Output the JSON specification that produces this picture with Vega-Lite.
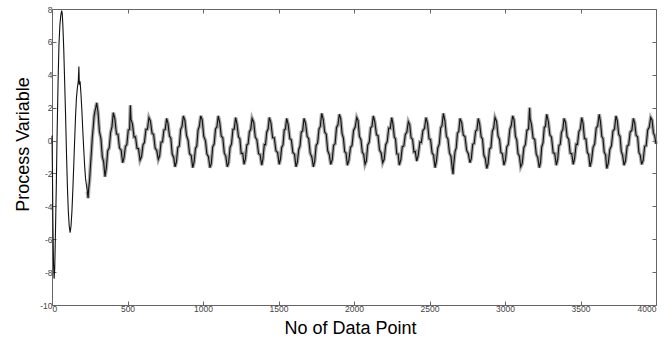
{
  "$schema": "https://vega.github.io/schema/vega-lite/v6.json",
  "width": 604,
  "height": 296,
  "autosize": {"type": "none"},
  "padding": {"left": 52, "top": 9, "right": 16, "bottom": 35},
  "background": "white",
  "config": {
    "view": {"stroke": null},
    "axis": {
      "grid": false,
      "domainColor": "#666",
      "tickColor": "#666",
      "tickSize": -4,
      "labelFont": "Liberation Sans",
      "labelFontSize": 8.5,
      "labelColor": "#444",
      "titleFont": "Liberation Sans",
      "titleFontSize": 18,
      "titleFontWeight": "normal",
      "titleColor": "#000"
    }
  },
  "data": {"values": [
    {"x":0,"y":0.3},{"x":3,"y":-2.0},{"x":6,"y":-5.0},{"x":10,"y":-7.5},{"x":14,"y":-8.4},{"x":18,"y":-7.8},{"x":22,"y":-6.0},{"x":28,"y":-3.0},{"x":34,"y":0.5},{"x":40,"y":3.5},{"x":46,"y":5.8},{"x":52,"y":7.0},{"x":58,"y":7.6},{"x":64,"y":7.9},{"x":68,"y":7.7},{"x":72,"y":7.0},{"x":78,"y":5.5},{"x":84,"y":3.5},{"x":90,"y":1.5},{"x":96,"y":-0.8},{"x":102,"y":-2.8},{"x":108,"y":-4.3},{"x":114,"y":-5.2},{"x":120,"y":-5.6},{"x":126,"y":-5.2},{"x":132,"y":-4.3},{"x":138,"y":-3.0},{"x":144,"y":-1.5},{"x":150,"y":0.0},{"x":156,"y":1.5},{"x":162,"y":2.6},{"x":168,"y":3.2},{"x":174,"y":3.6},{"x":178,"y":4.5},{"x":181,"y":3.4},{"x":186,"y":3.6},{"x":192,"y":2.8},{"x":198,"y":1.8},{"x":204,"y":0.6},{"x":210,"y":-0.5},{"x":216,"y":-1.5},{"x":222,"y":-2.3},{"x":228,"y":-2.7},{"x":234,"y":-3.1},{"x":239,"y":-3.5},{"x":243,"y":-2.9},{"x":249,"y":-2.4},{"x":255,"y":-1.5},{"x":261,"y":-0.7},{"x":267,"y":0.2},{"x":273,"y":0.8},{"x":279,"y":1.5},{"x":285,"y":1.8},{"x":290,"y":2.0},{"x":296,"y":2.3},
    {"x":305,"y":1.69},{"x":314,"y":0.55},{"x":324,"y":0.12},{"x":333,"y":-0.98},{"x":342,"y":-1.29},{"x":351,"y":-2.2},
    {"x":360,"y":-1.65},{"x":369,"y":-0.62},{"x":379,"y":-0.45},{"x":388,"y":0.48},{"x":397,"y":0.83},{"x":406,"y":1.7},
    {"x":416,"y":1.34},{"x":427,"y":0.40},{"x":437,"y":0.38},{"x":447,"y":-0.45},{"x":458,"y":-0.59},{"x":468,"y":-1.35},
    {"x":477,"y":-1.06},{"x":486,"y":-0.37},{"x":496,"y":-0.23},{"x":505,"y":0.64},{"x":514,"y":0.68},{"x":519,"y":2.15},{"x":523,"y":1.3},
    {"x":533,"y":1.00},{"x":543,"y":0.22},{"x":553,"y":0.23},{"x":563,"y":-0.47},{"x":573,"y":-0.50},{"x":583,"y":-1.2},
    {"x":593,"y":-0.97},{"x":603,"y":-0.25},{"x":612,"y":-0.12},{"x":622,"y":0.68},{"x":632,"y":0.69},{"x":642,"y":1.4},
    {"x":652,"y":1.18},{"x":663,"y":0.43},{"x":673,"y":0.38},{"x":683,"y":-0.45},{"x":694,"y":-0.62},{"x":704,"y":-1.15},
    {"x":713,"y":-0.93},{"x":722,"y":-0.10},{"x":732,"y":-0.08},{"x":741,"y":0.64},{"x":750,"y":0.68},{"x":759,"y":1.35},
    {"x":768,"y":1.04},{"x":778,"y":0.27},{"x":787,"y":0.15},{"x":796,"y":-0.82},{"x":806,"y":-1.03},{"x":815,"y":-1.6},
    {"x":824,"y":-1.30},{"x":833,"y":-0.42},{"x":843,"y":-0.33},{"x":852,"y":0.67},{"x":861,"y":0.86},{"x":870,"y":1.5},
    {"x":880,"y":1.23},{"x":891,"y":0.30},{"x":901,"y":0.02},{"x":911,"y":-0.80},{"x":922,"y":-0.91},{"x":932,"y":-1.65},
    {"x":941,"y":-1.31},{"x":950,"y":-0.48},{"x":959,"y":-0.33},{"x":967,"y":0.63},{"x":976,"y":0.88},{"x":985,"y":1.5},
    {"x":995,"y":1.26},{"x":1005,"y":0.25},{"x":1016,"y":0.00},{"x":1026,"y":-0.82},{"x":1036,"y":-0.98},{"x":1046,"y":-1.65},
    {"x":1055,"y":-1.41},{"x":1064,"y":-0.40},{"x":1074,"y":-0.20},{"x":1083,"y":0.70},{"x":1092,"y":0.83},{"x":1101,"y":1.5},
    {"x":1111,"y":1.08},{"x":1121,"y":0.27},{"x":1131,"y":0.17},{"x":1141,"y":-0.75},{"x":1151,"y":-0.96},{"x":1161,"y":-1.6},
    {"x":1170,"y":-1.35},{"x":1179,"y":-0.42},{"x":1189,"y":-0.20},{"x":1198,"y":0.68},{"x":1207,"y":0.70},{"x":1216,"y":1.4},
    {"x":1225,"y":1.01},{"x":1235,"y":0.23},{"x":1244,"y":0.12},{"x":1253,"y":-0.78},{"x":1263,"y":-0.78},{"x":1272,"y":-1.45},
    {"x":1281,"y":-1.10},{"x":1290,"y":-0.27},{"x":1299,"y":-0.20},{"x":1307,"y":0.52},{"x":1316,"y":0.68},{"x":1325,"y":1.35},
    {"x":1336,"y":1.10},{"x":1346,"y":0.22},{"x":1357,"y":0.04},{"x":1368,"y":-0.80},{"x":1378,"y":-0.85},{"x":1389,"y":-1.5},
    {"x":1397,"y":-1.12},{"x":1406,"y":-0.25},{"x":1414,"y":-0.25},{"x":1422,"y":0.51},{"x":1431,"y":0.70},{"x":1439,"y":1.4},
    {"x":1450,"y":1.08},{"x":1461,"y":0.17},{"x":1472,"y":0.17},{"x":1483,"y":-0.62},{"x":1494,"y":-0.73},{"x":1505,"y":-1.45},
    {"x":1513,"y":-1.13},{"x":1521,"y":-0.42},{"x":1530,"y":-0.25},{"x":1538,"y":0.64},{"x":1546,"y":0.70},{"x":1554,"y":1.35},
    {"x":1564,"y":0.98},{"x":1575,"y":0.12},{"x":1585,"y":0.05},{"x":1595,"y":-0.72},{"x":1606,"y":-0.83},{"x":1616,"y":-1.6},
    {"x":1625,"y":-1.31},{"x":1634,"y":-0.54},{"x":1642,"y":-0.35},{"x":1651,"y":0.52},{"x":1660,"y":0.58},{"x":1669,"y":1.35},
    {"x":1679,"y":1.06},{"x":1690,"y":0.25},{"x":1700,"y":0.12},{"x":1710,"y":-0.77},{"x":1721,"y":-1.01},{"x":1731,"y":-1.6},
    {"x":1740,"y":-1.26},{"x":1749,"y":-0.30},{"x":1759,"y":-0.15},{"x":1768,"y":0.69},{"x":1777,"y":0.86},{"x":1786,"y":1.65},
    {"x":1796,"y":1.31},{"x":1806,"y":0.52},{"x":1816,"y":0.38},{"x":1826,"y":-0.62},{"x":1836,"y":-0.85},{"x":1846,"y":-1.45},
    {"x":1856,"y":-1.16},{"x":1865,"y":-0.28},{"x":1875,"y":-0.20},{"x":1884,"y":0.78},{"x":1894,"y":0.97},{"x":1903,"y":1.6},
    {"x":1912,"y":1.33},{"x":1921,"y":0.42},{"x":1930,"y":0.15},{"x":1938,"y":-0.67},{"x":1947,"y":-0.76},{"x":1956,"y":-1.5},
    {"x":1966,"y":-1.20},{"x":1977,"y":-0.41},{"x":1987,"y":-0.30},{"x":1997,"y":0.61},{"x":2008,"y":0.82},{"x":2018,"y":1.4},
    {"x":2027,"y":1.21},{"x":2036,"y":0.25},{"x":2046,"y":0.05},{"x":2055,"y":-0.72},{"x":2064,"y":-0.83},{"x":2073,"y":-1.45},
    {"x":2082,"y":-1.24},{"x":2091,"y":-0.27},{"x":2101,"y":-0.09},{"x":2110,"y":0.77},{"x":2119,"y":0.86},{"x":2128,"y":1.5},
    {"x":2138,"y":1.13},{"x":2149,"y":0.35},{"x":2159,"y":0.30},{"x":2169,"y":-0.58},{"x":2180,"y":-0.76},{"x":2190,"y":-1.35},
    {"x":2200,"y":-1.14},{"x":2210,"y":-0.25},{"x":2220,"y":-0.07},{"x":2230,"y":0.76},{"x":2240,"y":0.74},{"x":2250,"y":1.4},
    {"x":2258,"y":1.00},{"x":2267,"y":0.21},{"x":2275,"y":0.10},{"x":2283,"y":-0.81},{"x":2292,"y":-0.82},{"x":2300,"y":-1.5},
    {"x":2310,"y":-1.18},{"x":2320,"y":-0.37},{"x":2330,"y":-0.33},{"x":2340,"y":0.37},{"x":2350,"y":0.51},{"x":2360,"y":1.15},
    {"x":2369,"y":0.97},{"x":2378,"y":0.17},{"x":2388,"y":0.07},{"x":2397,"y":-0.70},{"x":2406,"y":-0.67},{"x":2415,"y":-1.25},
    {"x":2425,"y":-0.91},{"x":2436,"y":-0.09},{"x":2446,"y":-0.12},{"x":2456,"y":0.60},{"x":2467,"y":0.74},{"x":2477,"y":1.4},
    {"x":2487,"y":1.04},{"x":2497,"y":0.10},{"x":2507,"y":0.07},{"x":2517,"y":-0.75},{"x":2527,"y":-0.89},{"x":2537,"y":-1.65},
    {"x":2546,"y":-1.25},{"x":2555,"y":-0.45},{"x":2565,"y":-0.20},{"x":2574,"y":0.77},{"x":2583,"y":0.92},{"x":2592,"y":1.65},
    {"x":2602,"y":1.20},{"x":2612,"y":0.25},{"x":2622,"y":0.10},{"x":2632,"y":-0.75},{"x":2642,"y":-0.95},{"x":2652,"y":-1.8},{"x":2656,"y":-2.05},
    {"x":2660,"y":-1.48},{"x":2669,"y":-0.67},{"x":2677,"y":-0.45},{"x":2685,"y":0.45},{"x":2694,"y":0.55},{"x":2702,"y":1.35},
    {"x":2713,"y":1.10},{"x":2724,"y":0.33},{"x":2735,"y":0.25},{"x":2746,"y":-0.60},{"x":2757,"y":-0.80},{"x":2768,"y":-1.35},
    {"x":2777,"y":-1.10},{"x":2786,"y":-0.23},{"x":2796,"y":-0.18},{"x":2805,"y":0.57},{"x":2814,"y":0.65},{"x":2823,"y":1.35},
    {"x":2832,"y":1.02},{"x":2842,"y":0.23},{"x":2851,"y":0.10},{"x":2860,"y":-0.88},{"x":2870,"y":-1.11},{"x":2879,"y":-1.7},
    {"x":2888,"y":-1.40},{"x":2897,"y":-0.52},{"x":2907,"y":-0.43},{"x":2916,"y":0.57},{"x":2925,"y":0.76},{"x":2934,"y":1.4},
    {"x":2944,"y":1.17},{"x":2954,"y":0.28},{"x":2964,"y":0.05},{"x":2973,"y":-0.73},{"x":2983,"y":-0.80},{"x":2993,"y":-1.5},
    {"x":3003,"y":-1.18},{"x":3012,"y":-0.38},{"x":3022,"y":-0.25},{"x":3032,"y":0.68},{"x":3041,"y":0.90},{"x":3051,"y":1.5},
    {"x":3060,"y":1.26},{"x":3069,"y":0.27},{"x":3078,"y":0.03},{"x":3086,"y":-0.79},{"x":3095,"y":-0.93},{"x":3104,"y":-1.6},
    {"x":3114,"y":-1.39},{"x":3125,"y":-0.42},{"x":3135,"y":-0.25},{"x":3145,"y":0.62},{"x":3156,"y":0.71},{"x":3163,"y":2.0},{"x":3166,"y":1.35},
    {"x":3176,"y":0.95},{"x":3186,"y":0.15},{"x":3197,"y":0.07},{"x":3207,"y":-0.83},{"x":3217,"y":-1.03},{"x":3227,"y":-1.65},
    {"x":3235,"y":-1.36},{"x":3243,"y":-0.39},{"x":3252,"y":-0.13},{"x":3260,"y":0.80},{"x":3268,"y":0.86},{"x":3276,"y":1.6},
    {"x":3287,"y":1.16},{"x":3297,"y":0.35},{"x":3308,"y":0.20},{"x":3319,"y":-0.75},{"x":3329,"y":-0.78},{"x":3340,"y":-1.5},
    {"x":3349,"y":-1.15},{"x":3357,"y":-0.30},{"x":3366,"y":-0.23},{"x":3374,"y":0.50},{"x":3383,"y":0.68},{"x":3391,"y":1.35},
    {"x":3401,"y":1.10},{"x":3411,"y":0.24},{"x":3422,"y":0.07},{"x":3432,"y":-0.77},{"x":3442,"y":-0.80},{"x":3452,"y":-1.45},
    {"x":3461,"y":-1.08},{"x":3471,"y":-0.22},{"x":3480,"y":-0.23},{"x":3489,"y":0.53},{"x":3499,"y":0.71},{"x":3508,"y":1.4},
    {"x":3517,"y":1.05},{"x":3526,"y":0.12},{"x":3536,"y":0.10},{"x":3545,"y":-0.72},{"x":3554,"y":-0.85},{"x":3563,"y":-1.6},
    {"x":3573,"y":-1.22},{"x":3583,"y":-0.43},{"x":3594,"y":-0.20},{"x":3604,"y":0.75},{"x":3614,"y":0.89},{"x":3624,"y":1.6},
    {"x":3632,"y":1.17},{"x":3641,"y":0.25},{"x":3649,"y":0.13},{"x":3657,"y":-0.70},{"x":3666,"y":-0.87},{"x":3674,"y":-1.7},
    {"x":3684,"y":-1.37},{"x":3694,"y":-0.55},{"x":3705,"y":-0.32},{"x":3715,"y":0.58},{"x":3725,"y":0.69},{"x":3735,"y":1.5},
    {"x":3744,"y":1.20},{"x":3753,"y":0.38},{"x":3762,"y":0.25},{"x":3770,"y":-0.65},{"x":3779,"y":-0.90},{"x":3788,"y":-1.5},
    {"x":3798,"y":-1.23},{"x":3809,"y":-0.33},{"x":3819,"y":-0.26},{"x":3829,"y":0.52},{"x":3840,"y":0.63},{"x":3850,"y":1.35},
    {"x":3859,"y":1.06},{"x":3868,"y":0.32},{"x":3878,"y":0.23},{"x":3887,"y":-0.72},{"x":3896,"y":-0.90},{"x":3905,"y":-1.45},
    {"x":3915,"y":-1.20},{"x":3925,"y":-0.35},{"x":3935,"y":-0.31},{"x":3945,"y":0.65},{"x":3955,"y":0.81},{"x":3965,"y":1.4},
    {"x":3974,"y":1.25},{"x":3983,"y":0.45},{"x":3991,"y":0.30},{"x":4000,"y":-0.2}
  ]},
  "layer": [
    {
      "transform": [{"filter": "datum.x >= 230"}],
      "mark": {"type": "line", "color": "#8a8a8a", "strokeWidth": 3.6, "strokeOpacity": 0.75},
      "encoding": {
        "x": {"field": "x", "type": "quantitative", "scale": {"domain": [0, 4000], "nice": false, "zero": false}, "axis": null},
        "y": {"field": "y", "type": "quantitative", "scale": {"domain": [-10, 8], "nice": false, "zero": false}, "axis": null}
      }
    },
    {
      "mark": {"type": "line", "color": "#111", "strokeWidth": 1.1},
      "encoding": {
        "x": {
          "field": "x", "type": "quantitative",
          "scale": {"domain": [0, 4000], "nice": false, "zero": false},
          "axis": {
            "orient": "bottom",
            "values": [0, 500, 1000, 1500, 2000, 2500, 3000, 3500, 4000],
            "labelExpr": "'' + datum.value",
            "labelPadding": 3,
            "title": "No of Data Point",
            "titleX": 298,
            "titleY": 28,
            "titleBaseline": "alphabetic"
          }
        },
        "y": {
          "field": "y", "type": "quantitative",
          "scale": {"domain": [-10, 8], "nice": false, "zero": false},
          "axis": {
            "orient": "left",
            "values": [-10, -8, -6, -4, -2, 0, 2, 4, 6, 8],
            "labelExpr": "'' + datum.value",
            "labelPadding": 4,
            "title": "Process Variable",
            "titleX": -24,
            "titleY": 135,
            "titleBaseline": "alphabetic"
          }
        }
      }
    },
    {
      "mark": {"type": "line", "strokeOpacity": 0},
      "encoding": {
        "x": {
          "field": "x", "type": "quantitative",
          "scale": {"domain": [0, 4000], "nice": false, "zero": false},
          "axis": {"orient": "top", "labels": false, "title": null,
                   "values": [0, 500, 1000, 1500, 2000, 2500, 3000, 3500, 4000]}
        },
        "y": {
          "field": "y", "type": "quantitative",
          "scale": {"domain": [-10, 8], "nice": false, "zero": false},
          "axis": {"orient": "right", "labels": false, "title": null,
                   "values": [-10, -8, -6, -4, -2, 0, 2, 4, 6, 8]}
        }
      }
    }
  ],
  "resolve": {"axis": {"x": "independent", "y": "independent"}}
}
